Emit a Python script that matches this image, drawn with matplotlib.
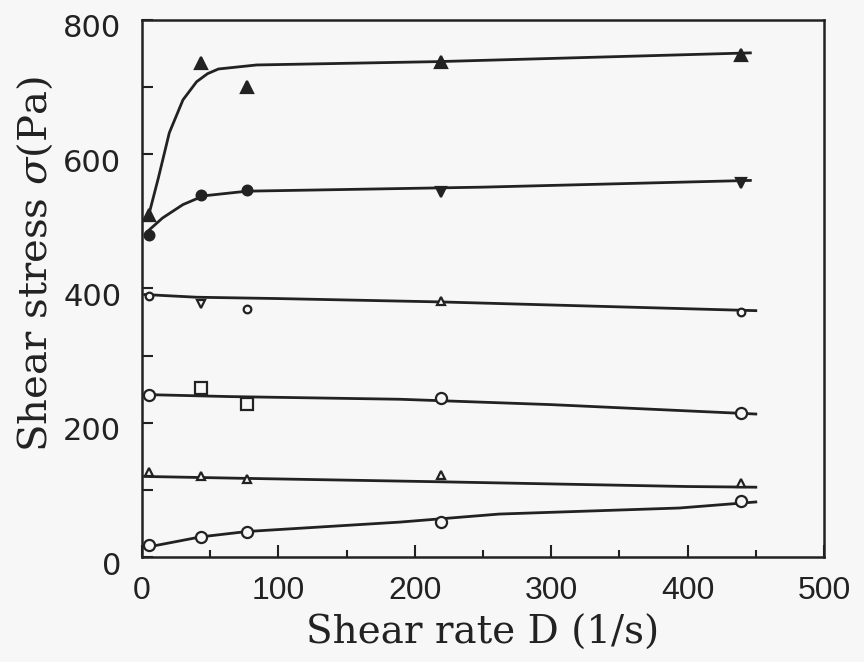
import numpy as np
import matplotlib
matplotlib.use("Agg")
import matplotlib.pyplot as plt
import matplotlib.transforms as mtransforms
from matplotlib.ticker import MultipleLocator

# measured points (shear rate D, 1/s)
rate = [5, 43, 77, 219, 439]

# shear stress (Pa) for the six samples, top to bottom
stress_1 = [510, 736, 700, 738, 748]
stress_2 = [480, 539, 547, 544, 557]
stress_3 = [389, 377, 370, 382, 365]
stress_4 = [241, 252, 228, 237, 215]
stress_5 = [127, 121, 116, 122, 110]
stress_6 = [18, 30, 37, 52, 83]

# hand-drawn fit curves
fit_1_D = [5, 12, 20, 30, 40, 48, 56, 84, 217, 446]
fit_1_s = [510, 565, 632, 681, 708, 720, 727, 733, 738, 751]
fit_2_D = [4, 15, 30, 45, 77, 250, 446]
fit_2_s = [485, 505, 525, 538, 545, 551, 561]
fit_3_D = [2, 40, 100, 219, 450]
fit_3_s = [391, 387, 385, 380, 367]
fit_4_D = [2, 64, 189, 300, 450]
fit_4_s = [242, 239, 235, 227, 213]
fit_5_D = [2, 80, 220, 400, 450]
fit_5_s = [120, 117, 112, 105, 104]
fit_6_D = [2, 43, 77, 189, 262, 394, 450]
fit_6_s = [14, 30, 38, 52, 64, 73, 82]

ink = "#222222"
paper = "#f7f7f8"

series = [
    (stress_1, fit_1_D, fit_1_s, ['^'] * 5, True, 8),
    (stress_2, fit_2_D, fit_2_s, ['o', 'o', 'o', 'v', 'v'], True, 7),
    (stress_3, fit_3_D, fit_3_s, ['o', 'v', 'o', '^', 'o'], False, 5.5),
    (stress_4, fit_4_D, fit_4_s, ['o', 's', 's', 'o', 'o'], False, 8),
    (stress_5, fit_5_D, fit_5_s, ['^'] * 5, False, 6),
    (stress_6, fit_6_D, fit_6_s, ['o'] * 5, False, 8),
]

plt.rcParams['mathtext.fontset'] = 'dejavuserif'

fig = plt.figure(figsize=(8.64, 6.62), dpi=100, facecolor=paper)
ax = fig.add_axes([0.1644, 0.1586, 0.7893, 0.8112])
ax.set_facecolor(paper)

for vals, fx, fy, marks, filled, ms in series:
    ax.plot(fx, fy, color=ink, lw=2.0, zorder=2)
    for d, s, m in zip(rate, vals, marks):
        ax.plot(d, s, marker=m, ms=ms, color=ink, mew=1.6,
                mfc=ink if filled else paper, linestyle='none', zorder=3)

ax.set_xlim(0, 500)
ax.set_ylim(0, 800)

ax.xaxis.set_major_locator(MultipleLocator(100))
ax.xaxis.set_minor_locator(MultipleLocator(50))
ax.yaxis.set_major_locator(MultipleLocator(200))
ax.yaxis.set_minor_locator(MultipleLocator(100))
ax.tick_params(which='both', direction='in', color=ink, width=1.5)
ax.tick_params(axis='x', which='major', length=9, pad=14)
ax.tick_params(axis='x', which='minor', length=5)
ax.tick_params(axis='y', which='both', length=8, pad=15)

for sp in ax.spines.values():
    sp.set_color(ink)
    sp.set_linewidth(1.8)

shift_down = mtransforms.ScaledTranslation(0, -6 / 100, fig.dpi_scale_trans)
for lab in ax.get_xticklabels():
    lab.set_family(['Liberation Sans', 'DejaVu Sans'])
    lab.set_fontsize(23)
    lab.set_color(ink)
for lab in ax.get_yticklabels():
    lab.set_family('DejaVu Sans')
    lab.set_fontsize(22)
    lab.set_color(ink)
    lab.set_transform(lab.get_transform() + shift_down)

ax.set_xlabel('Shear rate D (1/s)', family='DejaVu Serif', fontsize=28,
              color=ink, labelpad=6)
ax.set_ylabel(r'Shear stress $\sigma$(Pa)', family='DejaVu Serif',
              fontsize=29, color=ink)
ax.yaxis.set_label_coords(-0.128, 0.545)

fig.savefig('out.png', dpi=100, facecolor=paper)
